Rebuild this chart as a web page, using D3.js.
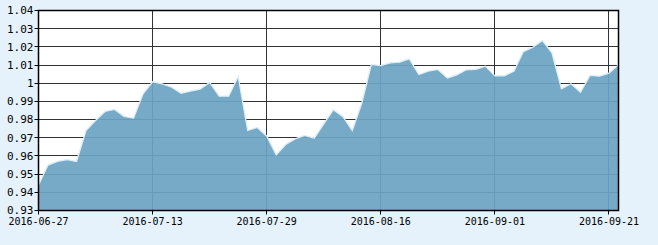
<!DOCTYPE html>
<html>
<head>
<meta charset="utf-8">
<script src="https://cdn.jsdelivr.net/npm/d3@7"></script>
<style>
  html, body { margin: 0; padding: 0; background: #e5f2fb; }
  svg { display: block; }
</style>
</head>
<body>
<div id="chart"></div>
<script>
// trading days shown on the chart
const dates = [
  '2016-06-27', '2016-06-28', '2016-06-29', '2016-06-30', '2016-07-01',
  '2016-07-04', '2016-07-05', '2016-07-06', '2016-07-07', '2016-07-08',
  '2016-07-11', '2016-07-12', '2016-07-13', '2016-07-14', '2016-07-15',
  '2016-07-18', '2016-07-19', '2016-07-20', '2016-07-21', '2016-07-22',
  '2016-07-25', '2016-07-26', '2016-07-27', '2016-07-28', '2016-07-29',
  '2016-08-01', '2016-08-02', '2016-08-03', '2016-08-04', '2016-08-05',
  '2016-08-08', '2016-08-09', '2016-08-10', '2016-08-11', '2016-08-12',
  '2016-08-15', '2016-08-16', '2016-08-17', '2016-08-18', '2016-08-19',
  '2016-08-22', '2016-08-23', '2016-08-24', '2016-08-25', '2016-08-26',
  '2016-08-29', '2016-08-30', '2016-08-31', '2016-09-01', '2016-09-02',
  '2016-09-05', '2016-09-06', '2016-09-07', '2016-09-08', '2016-09-09',
  '2016-09-12', '2016-09-13', '2016-09-14', '2016-09-19', '2016-09-20',
  '2016-09-21', '2016-09-22'
];

// net value per day
const values = [
  0.944, 0.955, 0.957, 0.958, 0.957,
  0.974, 0.9795, 0.9845, 0.9856, 0.9817,
  0.9808, 0.9942, 1.0008, 0.9997, 0.9978,
  0.9945, 0.9956, 0.9967, 1.0004, 0.9929,
  0.9929, 1.0037, 0.974, 0.9757, 0.971,
  0.9606, 0.9663, 0.9694, 0.9713, 0.9698,
  0.9777, 0.9854, 0.9817, 0.974, 0.989,
  1.0103, 1.0097, 1.0112, 1.0116, 1.0134,
  1.0048, 1.0066, 1.0076, 1.0029, 1.0046,
  1.0074, 1.0076, 1.0094, 1.004, 1.0041,
  1.0066, 1.0174, 1.0198, 1.0235, 1.0167,
  0.9969, 0.9997, 0.9951, 1.0043, 1.0039,
  1.0055, 1.0101
];

const yTicks = [0.93, 0.94, 0.95, 0.96, 0.97, 0.98, 0.99, 1.00, 1.01, 1.02, 1.03, 1.04];
const xTickLabels = ['2016-06-27', '2016-07-13', '2016-07-29', '2016-08-16', '2016-09-01', '2016-09-21'];

const width = 658, height = 245;
const margin = { top: 10.5, right: 39.5, bottom: 34.5, left: 38.5 };

const svg = d3.select('#chart').append('svg')
  .attr('width', width)
  .attr('height', height);

const x = d3.scaleLinear()
  .domain([0, dates.length - 1])
  .range([margin.left, width - margin.right]);

const y = d3.scaleLinear()
  .domain([0.93, 1.04])
  .range([height - margin.bottom, margin.top]);

// fondo del area de trazado
svg.append('rect')
  .attr('x', margin.left)
  .attr('y', margin.top)
  .attr('width', width - margin.left - margin.right)
  .attr('height', height - margin.top - margin.bottom)
  .attr('fill', '#fff');

// lineas de grilla
svg.append('g')
  .selectAll('line')
  .data(yTicks)
  .enter()
  .append('line')
  .attr('x1', margin.left)
  .attr('x2', width - margin.right)
  .attr('y1', d => Math.round(y(d) - 0.5) + 0.5)
  .attr('y2', d => Math.round(y(d) - 0.5) + 0.5)
  .attr('stroke', '#333')
  .attr('stroke-width', 1);

const xTickIdx = xTickLabels.map(d => dates.indexOf(d));

svg.append('g')
  .selectAll('line')
  .data(xTickIdx)
  .enter()
  .append('line')
  .attr('x1', d => Math.round(x(d) - 0.5) + 0.5)
  .attr('x2', d => Math.round(x(d) - 0.5) + 0.5)
  .attr('y1', margin.top)
  .attr('y2', height - margin.bottom)
  .attr('stroke', '#333')
  .attr('stroke-width', 1);

// area
const area = d3.area()
  .x((d, i) => x(i))
  .y0(y(0.93))
  .y1(d => y(d));

svg.append('path')
  .datum(values)
  .attr('d', area)
  .attr('fill', 'rgb(108,164,195)')
  .attr('fill-opacity', 0.93);

const line = d3.line()
  .x((d, i) => x(i))
  .y(d => y(d));

svg.append('path')
  .datum(values)
  .attr('d', line)
  .attr('fill', 'none')
  .attr('stroke', '#dcedf8')
  .attr('stroke-width', 1.3);

// borde
svg.append('rect')
  .attr('x', margin.left)
  .attr('y', margin.top)
  .attr('width', width - margin.left - margin.right)
  .attr('height', height - margin.top - margin.bottom)
  .attr('fill', 'none')
  .attr('stroke', '#000')
  .attr('stroke-width', 1.5);

// eje Y
const yAxis = svg.append('g');
yAxis.selectAll('line')
  .data(yTicks)
  .enter()
  .append('line')
  .attr('x1', margin.left - 4)
  .attr('x2', margin.left)
  .attr('y1', d => Math.round(y(d) - 0.5) + 0.5)
  .attr('y2', d => Math.round(y(d) - 0.5) + 0.5)
  .attr('stroke', '#000');

yAxis.selectAll('text')
  .data(yTicks)
  .enter()
  .append('text')
  .attr('x', margin.left - 5)
  .attr('y', d => y(d))
  .attr('dy', '0.35em')
  .attr('text-anchor', 'end')
  .attr('font-family', '"DejaVu Sans Mono", monospace')
  .attr('font-size', 11)
  .attr('fill', '#000')
  .text(d => String(+d.toFixed(2)));

// eje X
const xAxis = svg.append('g');
xAxis.selectAll('line')
  .data(xTickIdx)
  .enter()
  .append('line')
  .attr('x1', d => Math.round(x(d) - 0.5) + 0.5)
  .attr('x2', d => Math.round(x(d) - 0.5) + 0.5)
  .attr('y1', height - margin.bottom)
  .attr('y2', height - margin.bottom + 4)
  .attr('stroke', '#000');

xAxis.selectAll('text')
  .data(xTickIdx)
  .enter()
  .append('text')
  .attr('x', d => x(d))
  .attr('y', height - margin.bottom + 14.5)
  .attr('text-anchor', 'middle')
  .attr('font-family', '"DejaVu Sans Mono", monospace')
  .attr('font-size', 10)
  .attr('fill', '#000')
  .text(d => dates[d]);
</script>
</body>
</html>
